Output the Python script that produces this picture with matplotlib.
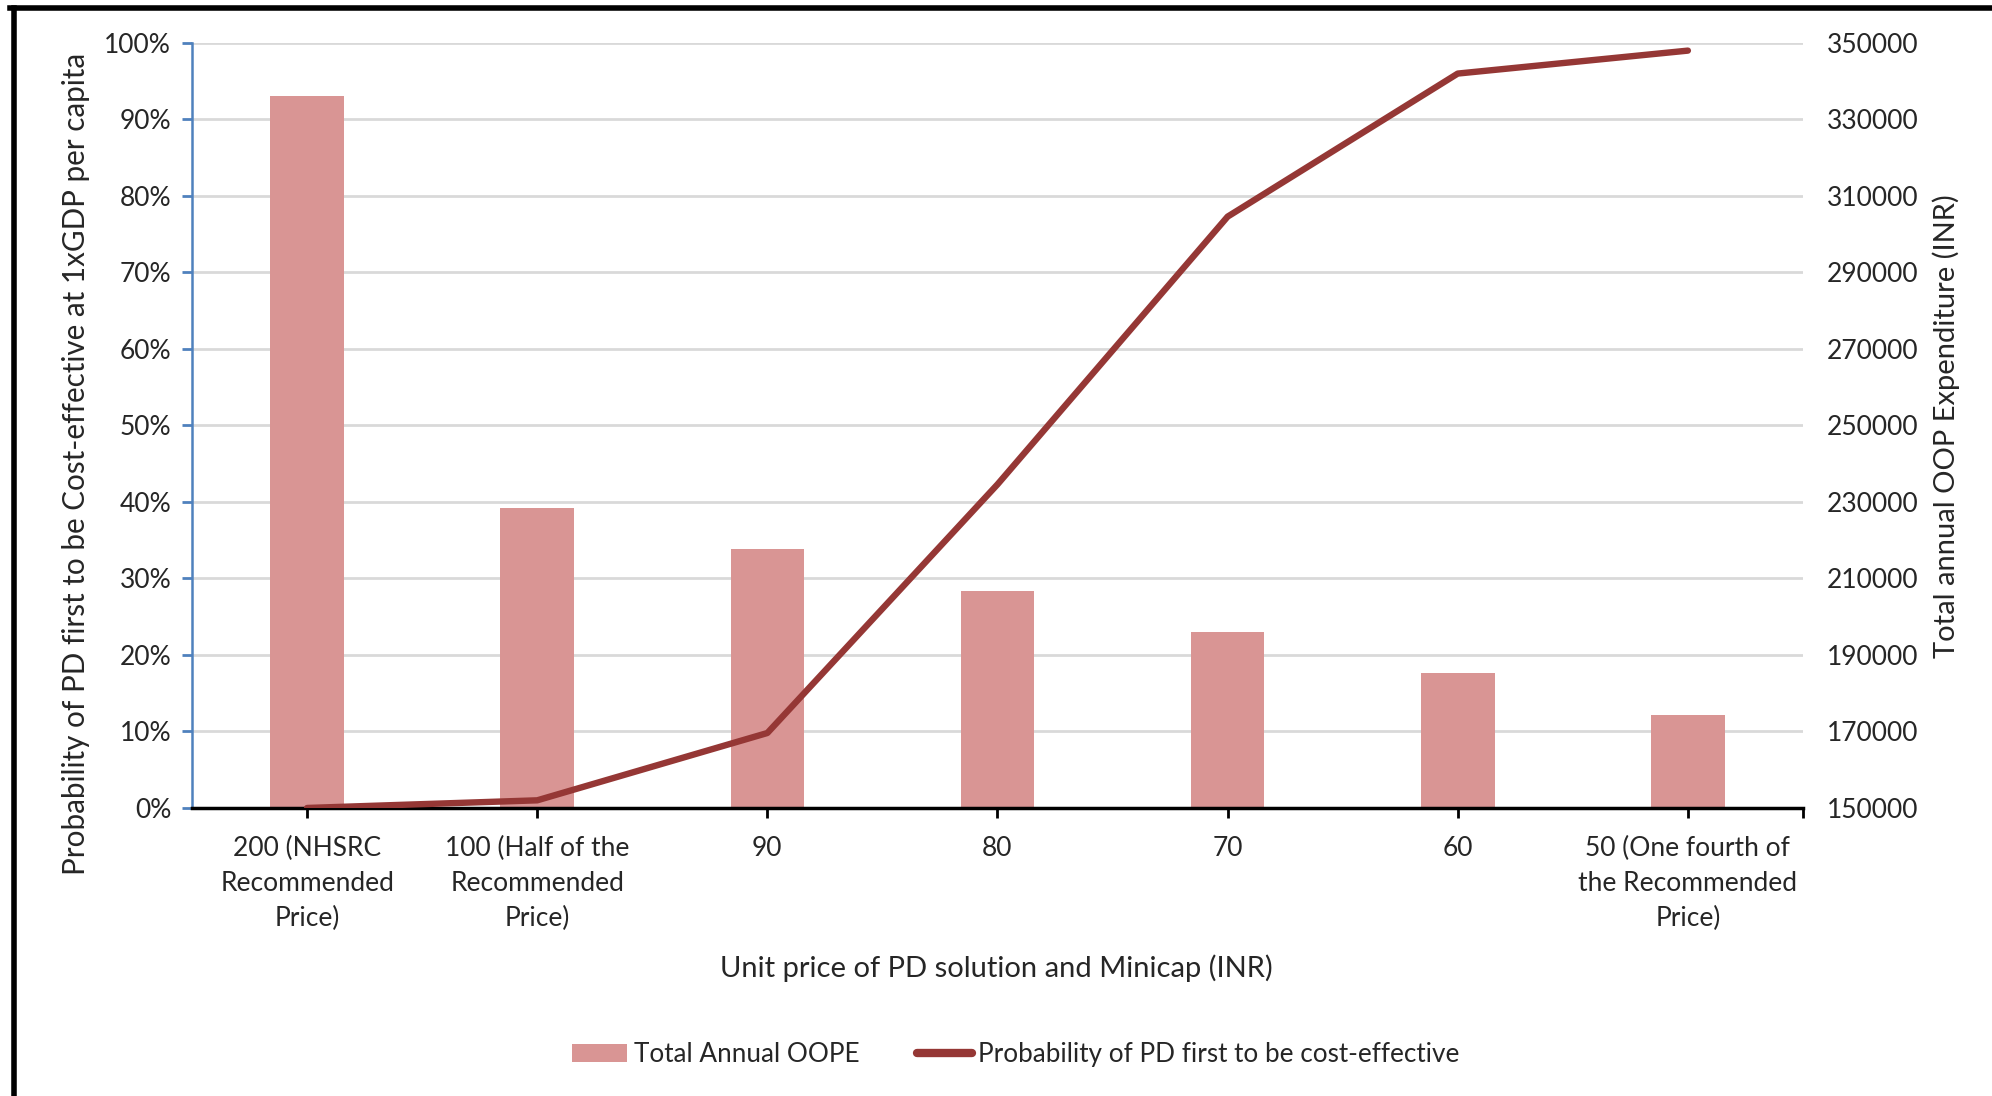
"""PD 单价敏感性：年度自付支出柱状图 + 成本效果概率折线（双轴）。"""
import matplotlib
matplotlib.use("Agg")
import matplotlib.pyplot as plt
from matplotlib.lines import Line2D
from matplotlib.patches import Patch
from matplotlib.ticker import FuncFormatter

# ---- data ----
categories = [
    "200 (NHSRC\nRecommended\nPrice)",
    "100 (Half of the\nRecommended\nPrice)",
    "90",
    "80",
    "70",
    "60",
    "50 (One fourth of\nthe Recommended\nPrice)",
]
annual_oope = [336200, 228400, 217800, 206600, 195900, 185200, 174300]
prob_cost_effective = [0.0, 1.0, 9.8, 42.3, 77.3, 96.0, 99.0]

BAR_COLOR = "#D99594"
LINE_COLOR = "#953735"
TEXT_COLOR = "#262626"
GRID_COLOR = "#D9D9D9"
FONT = ["Lato", "DejaVu Sans"]

plt.rcParams["font.family"] = FONT
plt.rcParams["font.size"] = 19

fig = plt.figure(figsize=(19.92, 10.96), dpi=100)
ax = fig.add_axes([0.0964, 0.2628, 0.8087, 0.698])
ax2 = ax.twinx()

x = list(range(len(categories)))

# bars on the secondary (right) axis, gridlines behind them
ax2.bar(x, annual_oope, width=0.32, color=BAR_COLOR, zorder=2)
ax2.set_ylim(150000, 350000)
ax2.set_yticks(range(150000, 350001, 20000))
ax2.grid(axis="y", color=GRID_COLOR, linewidth=2, zorder=0)
ax2.set_axisbelow(True)
ax2.tick_params(axis="y", length=0, pad=17, labelcolor=TEXT_COLOR, labelsize=19)
for side in ["top", "right", "left", "bottom"]:
    ax2.spines[side].set_visible(False)

# line on the primary (left) axis, drawn above the bars
ax.set_zorder(ax2.get_zorder() + 1)
ax.patch.set_visible(False)
ax.plot(x, prob_cost_effective, color=LINE_COLOR, linewidth=4.6, solid_capstyle="round",
        solid_joinstyle="round", zorder=3)
ax.set_ylim(0, 100)
ax.set_yticks(range(0, 101, 10))
ax.yaxis.set_major_formatter(FuncFormatter(lambda v, _: f"{v:.0f}%"))
ax.set_xlim(-0.5, len(categories) - 0.5)
ax.set_xticks(x + [len(categories) - 0.5])
ax.set_xticklabels(categories + [""], linespacing=1.5)
ax.tick_params(axis="y", direction="out", length=7, width=2, color="#4F81BD",
               pad=8, labelcolor=TEXT_COLOR, labelsize=19)
ax.tick_params(axis="x", direction="out", length=7, width=2, color="black",
               pad=13, labelcolor=TEXT_COLOR, labelsize=19)
for side in ["top", "right"]:
    ax.spines[side].set_visible(False)
ax.spines["left"].set_color("#4F81BD")
ax.spines["left"].set_linewidth(1.8)
ax.spines["bottom"].set_color("black")
ax.spines["bottom"].set_linewidth(2.5)

fig.text(0.5, 0.117, "Unit price of PD solution and Minicap (INR)", ha="center", va="center",
         fontsize=21, color=TEXT_COLOR)
fig.text(0.038, 0.577, "Probability of PD first to be Cost-effective at 1xGDP per capita",
         rotation=90, ha="center", va="center", fontsize=21.3, color=TEXT_COLOR)
fig.text(0.977, 0.611, "Total annual OOP Expenditure (INR)", rotation=90,
         ha="center", va="center", fontsize=21, color=TEXT_COLOR)

handles = [
    Patch(facecolor=BAR_COLOR, edgecolor="none", label="Total Annual OOPE"),
    Line2D([0], [0], color=LINE_COLOR, linewidth=6, solid_capstyle="round",
           label="Probability of PD first to be cost-effective"),
]
fig.legend(handles=handles, loc="center", bbox_to_anchor=(0.51, 0.038), ncol=2,
           frameon=False, fontsize=18.8, handlelength=2.1, handletextpad=0.25,
           columnspacing=2.2, labelcolor=TEXT_COLOR)

# outer frame (only left and top edges visible in the cropped original)
fig.add_artist(Line2D([0.007, 0.007], [0, 0.993], transform=fig.transFigure,
                      color="black", linewidth=4))
fig.add_artist(Line2D([0.005, 1.0], [0.993, 0.993], transform=fig.transFigure,
                      color="black", linewidth=4))

fig.savefig("out.png", dpi=100)
